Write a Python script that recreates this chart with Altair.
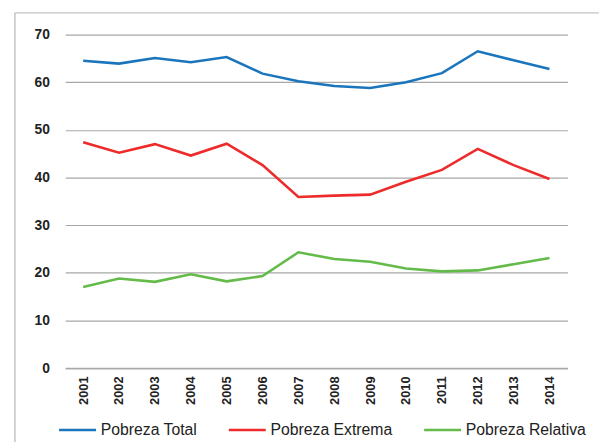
import altair as alt
import pandas as pd

years = ["2001", "2002", "2003", "2004", "2005", "2006", "2007",
         "2008", "2009", "2010", "2011", "2012", "2013", "2014"]
pobreza_total = [64.5, 63.9, 65.1, 64.2, 65.3, 61.8, 60.2, 59.2, 58.8, 60.0, 61.9, 66.5, 64.6, 62.8]
pobreza_extrema = [47.4, 45.2, 47.0, 44.6, 47.1, 42.6, 35.9, 36.2, 36.4, 39.1, 41.6, 46.0, 42.6, 39.7]
pobreza_relativa = [17.0, 18.8, 18.1, 19.7, 18.2, 19.3, 24.3, 22.9, 22.3, 20.9, 20.3, 20.5, 21.8, 23.1]

series_names = ["Pobreza Total", "Pobreza Extrema", "Pobreza Relativa"]
series_colors = ["#1a75bc", "#ee2b2b", "#64bb4a"]

rows = []
for name, vals in zip(series_names, [pobreza_total, pobreza_extrema, pobreza_relativa]):
    for y, v in zip(years, vals):
        rows.append({"year": y, "value": v, "serie": name})
df = pd.DataFrame(rows)

W, H = 509, 338
FONT = "Liberation Sans"

lines = alt.Chart(df).mark_line(strokeWidth=2.6).encode(
    x=alt.X("year:N", sort=years,
            scale=alt.Scale(type="point", padding=0.5),
            axis=alt.Axis(title=None, labelAngle=270, labelAlign="right", labelBaseline="middle",
                          labelFontWeight="bold", labelFontSize=13, labelColor="#222222",
                          labelFont=FONT, ticks=False, labelPadding=8, domainColor="#a8a8a8",
                          domainWidth=1.5, grid=False)),
    y=alt.Y("value:Q", scale=alt.Scale(domain=[0, 70], nice=False),
            axis=alt.Axis(title=None, values=[0, 10, 20, 30, 40, 50, 60, 70], ticks=False,
                          domain=False, labelFontWeight="bold", labelFontSize=14,
                          labelColor="#222222", labelFont=FONT, labelPadding=16,
                          gridColor="#a8a8a8", gridWidth=1.2)),
    color=alt.Color("serie:N", sort=series_names,
                    scale=alt.Scale(domain=series_names, range=series_colors),
                    legend=alt.Legend(title=None, orient="none", direction="horizontal",
                                      legendX=-8, legendY=380, symbolType="stroke",
                                      symbolSize=1400, symbolStrokeWidth=2.6,
                                      labelFontSize=16, labelFont=FONT, labelColor="#222222",
                                      labelOffset=3, columnPadding=26)),
)

frame_data = alt.Data(values=[{"k": 1}])
frame_left = alt.Chart(frame_data).mark_rule(color="#c4c4c4", strokeWidth=1.5).encode(
    x=alt.value(-51), y=alt.value(-22), y2=alt.value(H + 80))
frame_top = alt.Chart(frame_data).mark_rule(color="#c4c4c4", strokeWidth=1.5).encode(
    x=alt.value(-51), x2=alt.value(W + 60), y=alt.value(-22))

chart = alt.layer(frame_left, frame_top, lines).properties(
    width=W, height=H,
    autosize=alt.AutoSizeParams(type="none"),
    padding={"left": 58, "top": 24, "right": 32, "bottom": 72},
    background="white",
).configure_view(stroke=None)

chart.save("out.html", embed_options={"renderer": "svg", "actions": False})
